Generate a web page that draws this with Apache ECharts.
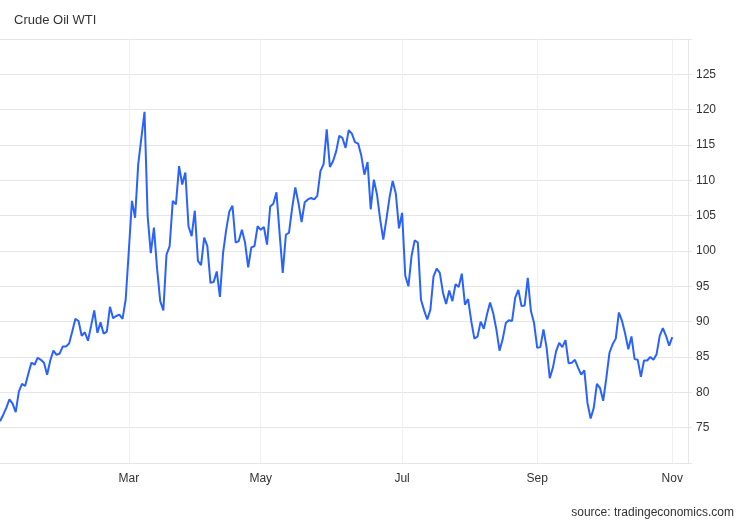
<!DOCTYPE html>
<html>
<head>
<meta charset="utf-8">
<script src="https://cdn.jsdelivr.net/npm/echarts@6/dist/echarts.min.js"></script>
<style>
html,body{margin:0;padding:0;background:#fff;}
#chart{width:750px;height:520px;}
</style>
</head>
<body>
<div id="chart"></div>
<script>
// Trading-day index categories (Jan 3 2022 ... Nov 8 2022), 220 slots
const categories = Array.from({length: 220}, (_, i) => 'd' + i);
// Month tick labels and the trading-day slot where each month starts
const monthLabels = ['Mar', 'May', 'Jul', 'Sep', 'Nov'];
const monthTickIndex = [41, 83, 128, 171, 214];
// Y axis tick labels
const yTicks = [75, 80, 85, 90, 95, 100, 105, 110, 115, 120, 125];
// Daily WTI close values
const wti = [
  75.9, 76.8, 77.8, 79.0, 78.4, 77.2, 80.1, 81.2, 80.9, 82.6,
  84.2, 83.9, 84.9, 84.6, 84.2, 82.5, 84.5, 85.9, 85.3, 85.5,
  86.5, 86.5, 86.9, 88.6, 90.4, 90.1, 88.0, 88.5, 87.3, 89.4,
  91.6, 88.4, 89.9, 88.3, 88.6, 92.1, 90.5, 90.8, 91.0, 90.4,
  93.1, 100.0, 107.1, 104.7, 112.3, 116.0, 119.7, 104.9, 99.7, 103.3,
  97.5, 92.9, 91.6, 99.5, 100.7, 107.1, 106.6, 112.0, 109.4, 111.1,
  103.5, 102.1, 105.7, 98.6, 98.0, 101.9, 100.7, 95.5, 95.6, 97.1,
  93.5, 99.7, 103.0, 105.6, 106.4, 101.2, 101.4, 103.0, 101.2, 97.7,
  100.5, 100.7, 103.5, 103.0, 103.4, 100.9, 106.3, 106.7, 108.3, 102.5,
  96.9, 102.3, 102.6, 106.1, 109.0, 106.8, 104.1, 106.9, 107.3, 107.5,
  107.3, 107.8, 111.3, 112.3, 117.2, 111.9, 112.7, 114.1, 116.3, 116.0,
  114.6, 117.1, 116.6, 115.4, 115.2, 113.5, 110.8, 112.6, 105.9, 110.1,
  108.0, 104.5, 101.6, 104.5, 107.6, 109.9, 108.1, 103.2, 105.4, 96.5,
  95.0, 99.3, 101.5, 101.2, 93.1, 91.6, 90.3, 91.7, 96.4, 97.5,
  96.9, 94.1, 92.5, 94.4, 92.9, 95.3, 94.9, 96.8, 92.4, 93.2,
  90.1, 87.6, 87.9, 90.0, 89.0, 91.0, 92.7, 91.2, 88.9, 85.9,
  87.5, 89.8, 90.2, 90.1, 93.4, 94.5, 92.2, 92.3, 96.2, 91.5,
  89.8, 86.3, 86.4, 88.9, 86.3, 82.0, 83.5, 85.8, 87.0, 86.4,
  87.4, 84.1, 84.2, 84.6, 83.5, 82.5, 83.1, 78.5, 76.3, 77.8,
  81.2, 80.6, 78.8, 82.0, 85.6, 86.8, 87.6, 91.3, 90.1, 88.3,
  86.1, 87.9, 84.7, 84.6, 82.2, 84.5, 84.5, 85.0, 84.6, 85.4,
  88.0, 89.1, 88.0, 86.6, 87.8
];

const chart = echarts.init(document.getElementById('chart'), null, {renderer: 'canvas'});
const FONT = '"Liberation Sans", Arial, Helvetica, sans-serif';
const isMonthTick = (idx) => monthTickIndex.indexOf(idx) !== -1;

chart.setOption({
  animation: false,
  backgroundColor: '#ffffff',
  title: [
    {
      text: 'Crude Oil WTI',
      left: 14, top: 14, padding: 0,
      textStyle: {fontFamily: FONT, fontSize: 13, fontWeight: 'normal', color: '#333333'}
    },
    {
      text: 'source: tradingeconomics.com',
      right: 16, top: 507, padding: 0,
      textStyle: {fontFamily: FONT, fontSize: 12, fontWeight: 'normal', color: '#333333'}
    }
  ],
  grid: {left: 0, right: 62, top: 39, bottom: 57, containLabel: false},
  xAxis: {
    type: 'category',
    data: categories,
    boundaryGap: false,
    axisLine: {show: true, lineStyle: {color: '#e6e6e6', width: 1}},
    axisTick: {show: false},
    splitLine: {show: true, interval: (idx) => isMonthTick(idx), lineStyle: {color: '#eef0f3', width: 1}},
    axisLabel: {
      interval: (idx) => isMonthTick(idx),
      formatter: (val, idx) => {
        const k = monthTickIndex.indexOf(idx);
        return k === -1 ? '' : monthLabels[k];
      },
      margin: 10,
      fontFamily: FONT, fontSize: 12, color: '#333333'
    }
  },
  yAxis: {
    type: 'value',
    position: 'right',
    min: 70, max: 130, interval: 5,
    axisLine: {show: true, lineStyle: {color: '#e6e6e6', width: 1}},
    axisTick: {show: true, length: 4, lineStyle: {color: '#e6e6e6'}},
    splitLine: {show: true, lineStyle: {color: '#e6e6e6', width: 1}},
    axisLabel: {
      margin: 8,
      formatter: (v) => yTicks.indexOf(v) !== -1 ? String(v) : '',
      fontFamily: FONT, fontSize: 12, color: '#333333'
    }
  },
  series: [{
    type: 'line',
    data: wti,
    showSymbol: false,
    smooth: false,
    lineStyle: {color: '#2962ff', width: 2},
    itemStyle: {color: '#2962ff'}
  }]
});
</script>
</body>
</html>
